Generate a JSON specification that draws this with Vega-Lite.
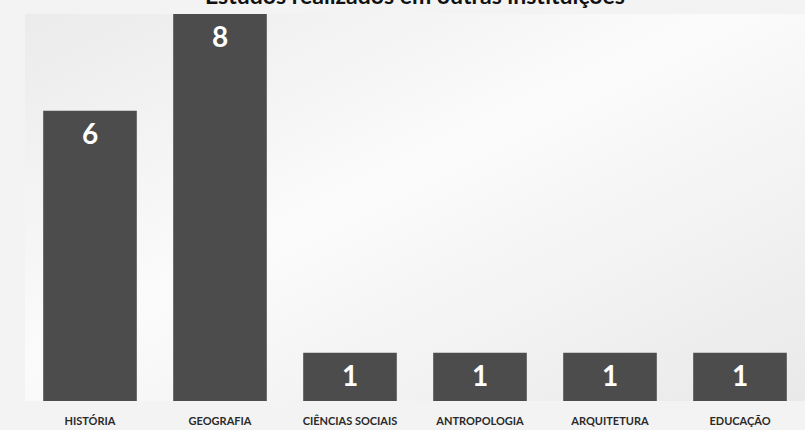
{
  "$schema": "https://vega.github.io/schema/vega-lite/v6.json",
  "autosize": "none",
  "width": 780,
  "height": 387,
  "padding": {"left": 25, "top": 14, "right": 0, "bottom": 29},
  "background": "#f3f3f3",
  "title": {
    "text": "Estudos realizados em outras instituições",
    "font": "Lato",
    "fontSize": 23,
    "fontWeight": "bold",
    "color": "#111111",
    "anchor": "middle",
    "offset": 5
  },
  "config": {
    "view": {
      "stroke": null,
      "fill": {
        "gradient": "linear",
        "x1": 0, "y1": 0, "x2": 1, "y2": 1,
        "stops": [
          {"offset": 0, "color": "#ebebeb"},
          {"offset": 0.45, "color": "#fbfbfb"},
          {"offset": 1, "color": "#e9e9e9"}
        ]
      }
    }
  },
  "data": {
    "values": [
      {"area": "HISTÓRIA", "n": 6},
      {"area": "GEOGRAFIA", "n": 8},
      {"area": "CIÊNCIAS SOCIAIS", "n": 1},
      {"area": "ANTROPOLOGIA", "n": 1},
      {"area": "ARQUITETURA", "n": 1},
      {"area": "EDUCAÇÃO", "n": 1}
    ]
  },
  "encoding": {
    "x": {
      "field": "area",
      "type": "nominal",
      "sort": null,
      "scale": {"paddingInner": 0.28, "paddingOuter": 0.14},
      "axis": {
        "title": null,
        "labelAngle": 0,
        "ticks": false,
        "domain": false,
        "labelPadding": 14,
        "labelFont": "Lato",
        "labelFontSize": 11,
        "labelFontWeight": "bold",
        "labelColor": "#2a2a2a"
      }
    },
    "y": {
      "field": "n",
      "type": "quantitative",
      "scale": {"domain": [0, 8], "nice": false},
      "axis": null
    }
  },
  "layer": [
    {"mark": {"type": "bar", "color": "#4c4c4c"}},
    {
      "mark": {
        "type": "text",
        "color": "white",
        "font": "Lato",
        "fontSize": 28,
        "fontWeight": "bold",
        "baseline": "middle",
        "dy": 25
      },
      "encoding": {"text": {"field": "n", "type": "quantitative"}}
    }
  ]
}
